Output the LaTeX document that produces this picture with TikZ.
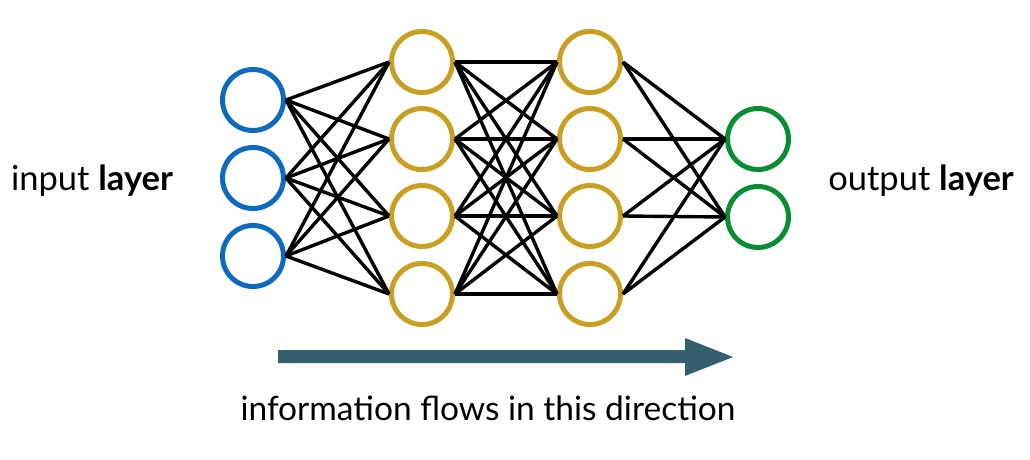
\documentclass[tikz,border=0pt]{standalone}
\usepackage{fontspec}
\setmainfont{Lato}
\definecolor{inblue}{RGB}{14,106,191}
\definecolor{hidgold}{RGB}{200,158,35}
\definecolor{outgreen}{RGB}{8,140,52}
\definecolor{flowslate}{RGB}{54,95,110}
\tikzset{
  neuron/.style={circle, draw, line width=5pt, minimum size=61pt, inner sep=0pt},
  inneuron/.style={neuron, draw=inblue},
  hidneuron/.style={neuron, draw=hidgold},
  outneuron/.style={neuron, draw=outgreen},
  synapse/.style={line width=3.4pt, black},
  layerlabel/.style={anchor=base, font=\fontsize{34.5}{40}\selectfont},
}
\begin{document}
\begin{tikzpicture}[x=1pt, y=-1pt]
			\useasboundingbox (0,0) rectangle (1030,460);
			\pgfmathsetmacro{\xin}{253}
			\pgfmathsetmacro{\xha}{422}
			\pgfmathsetmacro{\xhb}{590}
			\pgfmathsetmacro{\xout}{758}
			% neurons
			\foreach \i/\y in {1/100,2/178,3/256}
				\node[inneuron] (in\i) at (\xin,\y) {};
			\foreach \i/\y in {1/62,2/139,3/216,4/294} {
				\node[hidneuron] (ha\i) at (\xha,\y) {};
				\node[hidneuron] (hb\i) at (\xhb,\y) {};
			}
			\foreach \i/\y in {1/139,2/217}
				\node[outneuron] (out\i) at (\xout,\y) {};
			% connections
			\foreach \i in {1,2,3}
				\foreach \j in {1,...,4}
					\draw[synapse] (in\i.east) -- (ha\j.west);
			\foreach \i in {1,...,4}
				\foreach \j in {1,...,4}
					\draw[synapse] (ha\i.east) -- (hb\j.west);
			\foreach \i in {1,...,4}
				\foreach \j in {1,2}
					\draw[synapse] (hb\i.east) -- (out\j.west);
			% labels
			\node[layerlabel] (inlabel) at (92,190) {input \textbf{layer}};
			\node[layerlabel] (outlabel) at (921,190) {output \textbf{layer}};
			% flow arrow
			\fill[flowslate] (278,350) -- (685,350) -- (685,338) -- (733,357) -- (685,376) -- (685,363) -- (278,363) -- cycle;
			\node[anchor=base, font=\fontsize{33.5}{40}\selectfont] (flowlabel) at (488,420) {information flows in this direction};
		\end{tikzpicture}
\end{document}
